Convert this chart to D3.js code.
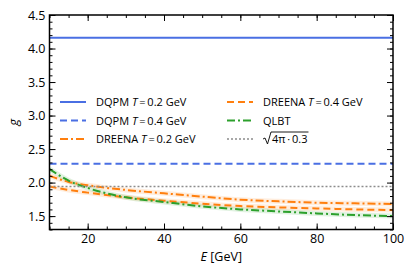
<!DOCTYPE html>
<html>
<head>
<meta charset="utf-8">
<script src="https://cdn.jsdelivr.net/npm/d3@7"></script>
<style>
	body { margin: 0; background: #fff; }
	svg text { font-family: "Open Sans", "Noto Sans", sans-serif; fill: #000; }
</style>
</head>
<body>
<svg id="chart" width="415" height="277"></svg>
<script>
// valores
const energies = [10, 15, 20, 30, 40, 50, 60, 70, 80, 90, 100];
const dqpm02 = 4.16;
const dqpm04 = 2.28;
const constG = Math.sqrt(4 * Math.PI * 0.3);
const dreena02 = [2.10, 2.01, 1.96, 1.89, 1.84, 1.79, 1.745, 1.72, 1.70, 1.69, 1.68];
const dreena04 = [1.94, 1.89, 1.85, 1.78, 1.73, 1.685, 1.65, 1.63, 1.615, 1.60, 1.59];
const qlbt = [2.20, 2.03, 1.92, 1.78, 1.71, 1.645, 1.60, 1.57, 1.54, 1.515, 1.50];
const xTicks = [20, 40, 60, 80, 100];
const yTicks = [1.5, 2.0, 2.5, 3.0, 3.5, 4.0, 4.5];

const blue = "#4a6fe3", orange = "#ff7f0e", green = "#2ca02c", grey = "#8c8c8c";

const series = [
	{label: "DQPM", T: "0.2", color: blue, dash: null, values: energies.map(() => dqpm02)},
	{label: "DQPM", T: "0.4", color: blue, dash: "7,4", values: energies.map(() => dqpm04)},
	{label: "DREENA", T: "0.2", color: orange, dash: "8,3,2,3", values: dreena02, band: true},
	{label: "DREENA", T: "0.4", color: orange, dash: "7,4", values: dreena04, band: true},
	{label: "QLBT", color: green, dash: "8,3,2,3", values: qlbt, band: true},
	{label: "sqrt", color: grey, dash: "2,2", values: energies.map(() => constG), width: 1.6}
];

const margin = {left: 49.5, right: 22, top: 15, bottom: 47.5};
const W = 415, H = 277;
const svg = d3.select("#chart");

const x = d3.scaleLinear().domain([10, 100]).range([margin.left, W - margin.right]);
const y = d3.scaleLinear().domain([1.3, 4.5]).range([H - margin.bottom, margin.top]);

svg.append("clipPath").attr("id", "clip")
	.append("rect")
	.attr("x", x(10)).attr("y", y(4.5))
	.attr("width", x(100) - x(10)).attr("height", y(1.3) - y(4.5));

const plot = svg.append("g").attr("clip-path", "url(#clip)");

const line = d3.line()
	.curve(d3.curveMonotoneX)
	.x((d, i) => x(energies[i]))
	.y(d => y(d));

// banda suave alrededor de las curvas
series.filter(s => s.band).forEach(s => {
	plot.append("path")
		.attr("d", line(s.values))
		.attr("fill", "none")
		.attr("stroke", s.color)
		.attr("stroke-opacity", 0.14)
		.attr("stroke-width", 5);
});

series.forEach(s => {
	plot.append("path")
		.attr("d", line(s.values))
		.attr("fill", "none")
		.attr("stroke", s.color)
		.attr("stroke-width", s.width || 2)
		.attr("stroke-dasharray", s.dash);
});

// ejes con ticks hacia dentro en los cuatro lados
const minorX = d3.range(10, 100.01, 5);
const minorY = d3.range(1.3, 4.501, 0.1);

function drawAxis(axis, transform, labels) {
	const g = svg.append("g").attr("transform", transform).call(axis);
	g.select(".domain").remove();
	g.selectAll("line").attr("stroke", "#000").attr("stroke-width", 1);
	if (!labels) g.selectAll("text").remove();
	else g.selectAll("text").attr("font-size", 12.5);
	return g;
}

drawAxis(d3.axisBottom(x).tickValues(minorX).tickSize(-3).tickFormat(""), `translate(0,${y(1.3)})`);
drawAxis(d3.axisTop(x).tickValues(minorX).tickSize(-3).tickFormat(""), `translate(0,${y(4.5)})`);
drawAxis(d3.axisLeft(y).tickValues(minorY).tickSize(-3).tickFormat(""), `translate(${x(10)},0)`);
drawAxis(d3.axisRight(y).tickValues(minorY).tickSize(-3).tickFormat(""), `translate(${x(100)},0)`);

drawAxis(d3.axisBottom(x).tickValues(xTicks).tickSize(-6).tickPadding(5).tickFormat(d3.format("d")), `translate(0,${y(1.3)})`, true);
drawAxis(d3.axisTop(x).tickValues(xTicks).tickSize(-6).tickFormat(""), `translate(0,${y(4.5)})`);
drawAxis(d3.axisLeft(y).tickValues(yTicks).tickSize(-6).tickPadding(4).tickFormat(d3.format(".1f")), `translate(${x(10)},0)`, true);
drawAxis(d3.axisRight(y).tickValues(yTicks).tickSize(-6).tickFormat(""), `translate(${x(100)},0)`);

svg.append("rect")
	.attr("x", x(10)).attr("y", y(4.5))
	.attr("width", x(100) - x(10)).attr("height", y(1.3) - y(4.5))
	.attr("fill", "none").attr("stroke", "#000").attr("stroke-width", 1.5);

// títulos de los ejes
const xl = svg.append("text")
	.attr("x", (x(10) + x(100)) / 2).attr("y", 261)
	.attr("text-anchor", "middle").attr("font-size", 12.5);
xl.append("tspan").attr("font-style", "italic").text("E");
xl.append("tspan").text(" [GeV]");

svg.append("text")
	.attr("transform", `translate(18,${(y(1.3) + y(4.5)) / 2}) rotate(-90)`)
	.attr("text-anchor", "middle")
	.attr("font-size", 13).attr("font-style", "italic")
	.text("g");

// leyenda
const legendPos = [[60, 102], [60, 120.5], [60, 139], [227, 102], [227, 120.5], [227, 139]];

series.forEach((s, i) => {
	const p = legendPos[i];
	svg.append("line")
		.attr("x1", p[0]).attr("x2", p[0] + 26)
		.attr("y1", p[1]).attr("y2", p[1])
		.attr("stroke", s.color)
		.attr("stroke-width", s.width || 2)
		.attr("stroke-dasharray", s.dash);

	const tx = p[0] + 36, ty = p[1] + 4;
	const t = svg.append("text")
		.attr("x", tx).attr("y", ty)
		.attr("font-size", 11);

	if (s.label === "sqrt") {
		// raíz cuadrada dibujada a mano
		t.attr("x", tx + 9).text("4π\u2009·\u20090.3");
		const w = t.node().getComputedTextLength();
		svg.append("path")
			.attr("d", `M${tx},${ty - 4} L${tx + 2},${ty - 5} L${tx + 4.5},${ty + 1} L${tx + 8},${ty - 11} L${tx + 10 + w},${ty - 11}`)
			.attr("fill", "none").attr("stroke", "#000").attr("stroke-width", 0.9);
		return;
	}
	t.append("tspan").text(s.label);
	if (s.T) {
		t.append("tspan").text(" ");
		t.append("tspan").attr("font-style", "italic").text("T");
		t.append("tspan").text("\u2009=\u2009" + s.T + " GeV");
	}
});
</script>
</body>
</html>
